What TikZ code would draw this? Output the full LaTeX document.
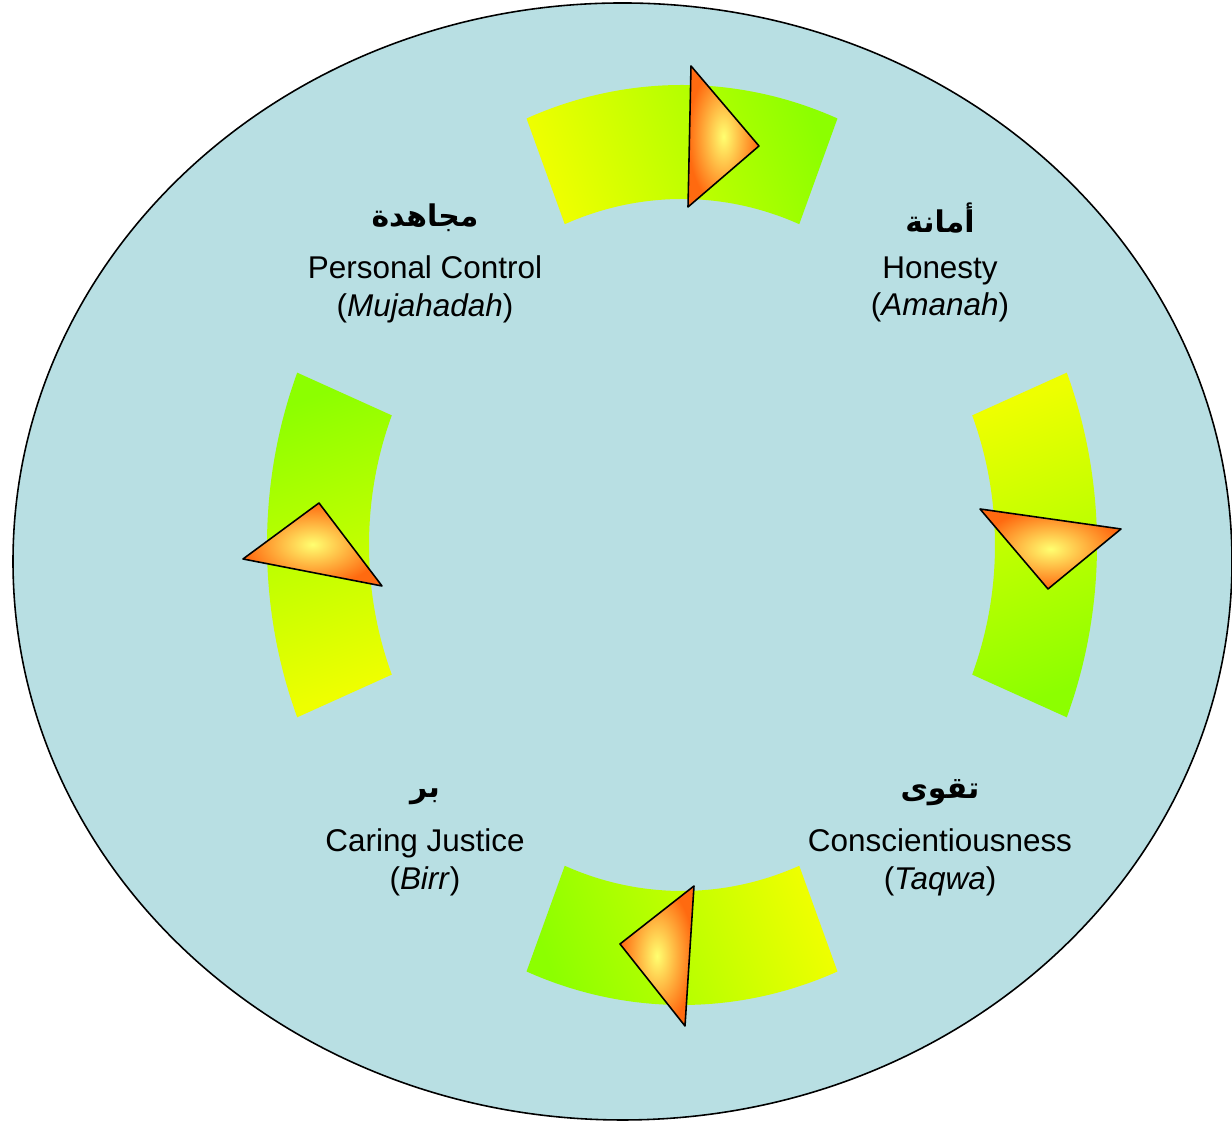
\documentclass[tikz,border=0pt]{standalone}
\usepackage{fontspec}
\setmainfont{Liberation Sans}
\newfontfamily\arabicfont[Script=Arabic]{DejaVu Sans}
\TeXXeTstate=1
\usetikzlibrary{calc}
\definecolor{sea}{HTML}{B8DFE3}
\definecolor{lime}{HTML}{EEFF00}
\definecolor{leaf}{HTML}{8CFF00}
\definecolor{flame}{HTML}{FF6A10}
\definecolor{glow}{HTML}{FFFF70}
\tikzset{
  every node/.style = {text=black},
  vlab/.style = {font=\fontsize{17.9}{21.5}\selectfont, align=center, inner sep=0pt},
  vara/.style = {font=\arabicfont\bfseries\fontsize{17}{20}\selectfont, inner sep=0pt},
  vseg/.style = {top color=leaf, bottom color=lime},
  vtri/.style = {inner color=glow, outer color=flame, draw=black, line width=0.9pt, line join=round},
}

\begin{document}
\begin{tikzpicture}
\useasboundingbox (0,0) rectangle (24.64,22.44);
\filldraw[fill=sea, draw=black, line width=0.9pt] (12.45,11.21) ellipse [x radius=12.19, y radius=11.17];

% the four ring pieces
\coordinate (R) at (13.64,11.54);
\foreach \a/\s in {90/-70, 0/-160, 270/110, 180/20}{
  \shade[vseg, shading angle=\s]
    ($(R)+(\a-22:8.3 and 9.2)$) arc[start angle=\a-22, end angle=\a+22, x radius=8.3, y radius=9.2]
    -- ($(R)+(\a+22:6.26 and 6.92)$) arc[start angle=\a+22, end angle=\a-22, x radius=6.26, y radius=6.92]
    -- cycle;
}

% pointers
\shadedraw[vtri] (13.82,21.12) -- (15.18,19.52) -- (13.76,18.30) -- cycle;
\shadedraw[vtri] (19.60,12.26) -- (22.42,11.86) -- (20.96,10.66) -- cycle;
\shadedraw[vtri] (13.88,4.72) -- (12.40,3.56) -- (13.70,1.92) -- cycle;
\shadedraw[vtri] (6.38,12.38) -- (4.86,11.26) -- (7.64,10.72) -- cycle;

% labels
\node[vara] (mujA) at (8.50,18.08) {\beginR مجاهدة\endR};
\node[vlab] (muj) at (8.50,16.65) {Personal Control\\(\textit{Mujahadah})};
\node[vara] (amaA) at (18.80,18.08) {\beginR أمانة\endR};
\node[vlab] (ama) at (18.80,16.65) {Honesty\\(\textit{Amanah})};
\node[vara] (birA) at (8.50,6.50) {\beginR بر\endR};
\node[vlab] (bir) at (8.50,5.20) {Caring Justice\\(\textit{Birr})};
\node[vara] (taqA) at (18.80,6.58) {\beginR تقوى\endR};
\node[vlab] (taq) at (18.80,5.20) {Conscientiousness\\(\textit{Taqwa})};
\end{tikzpicture}
\end{document}
